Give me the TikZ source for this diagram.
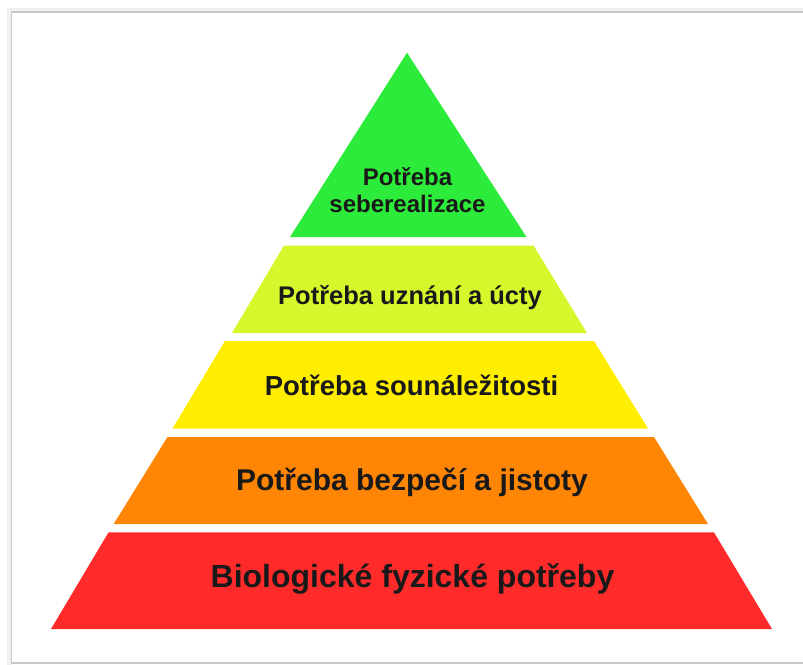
\documentclass[tikz,border=0pt]{standalone}
\usepackage{fontspec}
\setmainfont{Liberation Sans}
\definecolor{lvlgreen}{HTML}{2DEB3A}
\definecolor{lvllime}{HTML}{D8F62C}
\definecolor{lvlyellow}{HTML}{FFEE00}
\definecolor{lvlorange}{HTML}{FF8505}
\definecolor{lvlred}{HTML}{FF2B2B}
\definecolor{framegray}{HTML}{C8C8C8}
\begin{document}
\begin{tikzpicture}[x=1pt,y=-1pt,
	lbl/.style={anchor=base,inner sep=0,text=black!90,font=\bfseries\fontsize{#1}{27}\selectfont},
	frame/.style={draw=framegray,line width=1.4pt}]
\useasboundingbox (0,0) rectangle (803,664);
% frame
\draw[frame,draw=black!6,line width=5pt] (803,10) -- (9,10) -- (9,665);
\draw[frame] (803,12) -- (11.5,12) -- (11.5,663) -- (803,663);
% levels
\fill[lvlgreen] (407,52.7) -- (526.5,237) -- (290,237) -- cycle;
\fill[lvllime] (284,245.5) -- (533.5,245.5) -- (587,333) -- (232,333) -- cycle;
\fill[lvlyellow] (225,341) -- (594,341) -- (648,428.5) -- (172.5,428.5) -- cycle;
\fill[lvlorange] (167.5,437) -- (654,437) -- (708,524) -- (113.7,524) -- cycle;
\fill[lvlred] (108.5,532.4) -- (714,532.4) -- (772,629) -- (51,629) -- cycle;
% texts
\node[lbl=24,align=center] (self) at (407.5,212) {Potřeba\\seberealizace};
\node[lbl=25.5] (esteem) at (410,304.3) {Potřeba uznání a úcty};
\node[lbl=27.5] (love) at (411.5,395) {Potřeba sounáležitosti};
\node[lbl=30] (safety) at (412,490) {Potřeba bezpečí a jistoty};
\node[lbl=32] (bio) at (412.5,587) {Biologické fyzické potřeby};
\end{tikzpicture}
\end{document}
